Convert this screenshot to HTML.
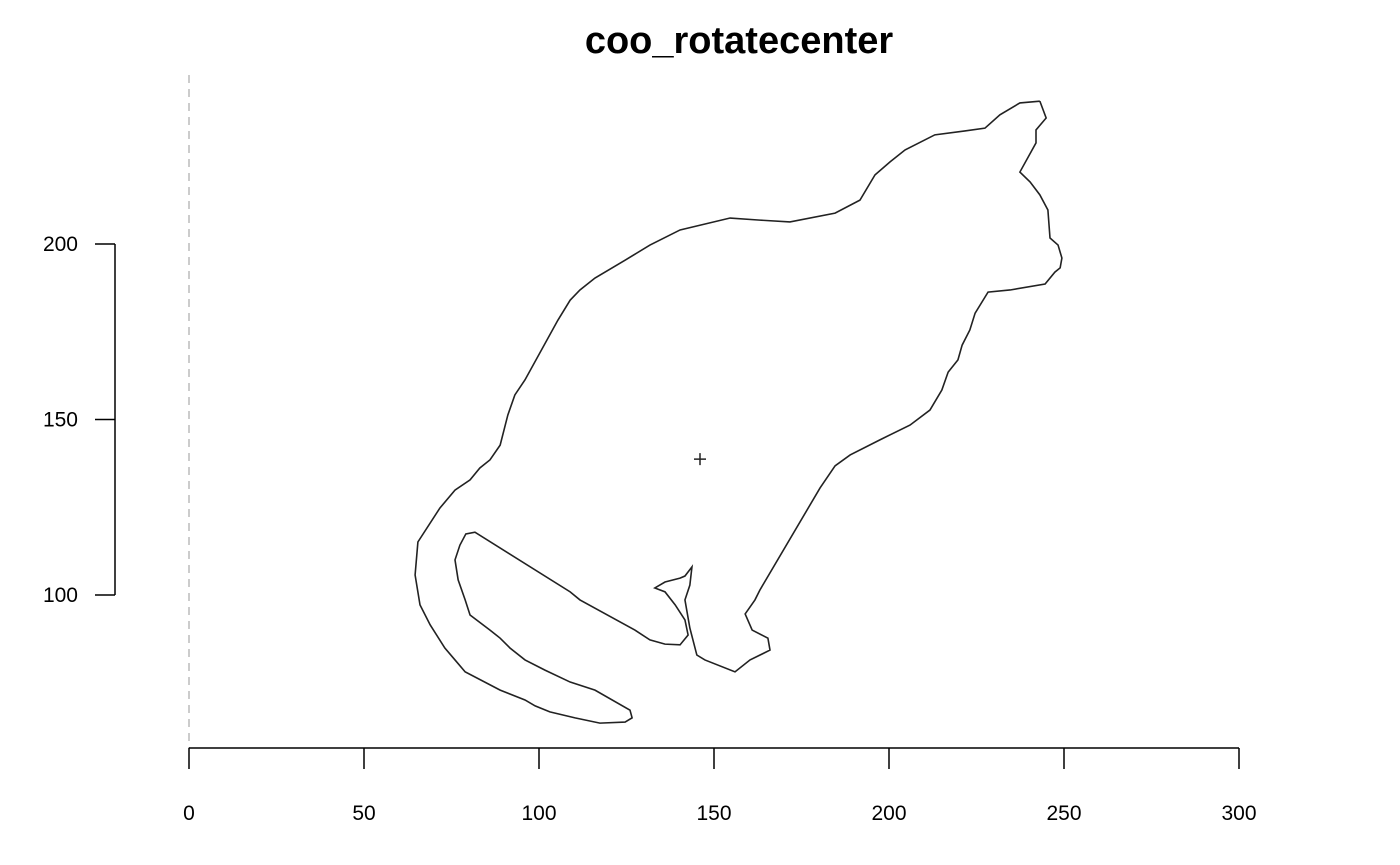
<!DOCTYPE html>
<html><head><meta charset="utf-8"><style>
html,body{margin:0;padding:0;background:#fff;}
svg{display:block;font-family:"Liberation Sans",Arial,sans-serif;}
</style></head><body>
<svg id="chart" width="1400" height="865" viewBox="0 0 1400 865">
<text x="739" y="53" text-anchor="middle" font-size="38" font-weight="bold">coo_rotatecenter</text>
<line x1="189" y1="75" x2="189" y2="748" stroke="#bbb" stroke-width="1.5" stroke-dasharray="8,6"/>
<g id="axes"></g>
<polyline id="outline" fill="none" stroke="#222" stroke-width="1.6"/>
<g id="centroid"></g>
</svg>
<script>
const xTicks=[0,50,100,150,200,250,300];
const yTicks=[100,150,200];
const outlineX=[243.1,244.9,242.0,242.0,237.4,240.3,243.1,245.4,246.0,248.3,249.4,248.9,247.4,244.6,234.6,228.3,224.6,223.1,220.9,219.7,216.9,215.1,211.7,206.0,197.4,188.9,184.6,180.3,163.1,161.7,158.9,160.9,165.4,166.0,160.3,156.0,147.4,145.1,143.1,141.7,143.1,143.7,141.7,140.3,136.0,133.1,136.0,138.9,141.7,142.6,140.3,136.0,131.7,127.4,111.7,108.9,81.7,79.1,77.4,76.0,76.9,78.9,80.3,86.0,88.9,91.7,96.0,101.7,108.9,116.0,126.0,126.6,124.6,117.4,110.3,103.1,98.9,96.0,88.9,78.9,76.0,73.1,68.9,66.0,64.6,65.4,71.7,76.0,80.3,83.1,86.0,88.9,91.1,93.1,96.0,105.4,108.9,111.7,116.0,124.6,131.7,140.3,154.6,163.1,171.7,184.6,191.7,196.0,200.3,204.6,213.1,221.7,227.4,231.7,237.4,243.1];
const outlineY=[240.7,235.9,232.5,228.8,220.5,217.7,214.0,209.7,201.7,199.7,196.0,193.2,192.0,188.6,186.9,186.3,180.3,175.5,171.2,167.0,163.5,158.4,152.7,148.4,144.2,139.9,136.8,130.5,101.4,98.6,94.6,90.0,87.7,84.3,81.5,78.1,81.5,82.9,90.6,98.6,102.8,108.0,105.4,104.8,103.7,102.0,100.9,97.2,92.9,88.6,85.8,86.0,87.2,90.0,98.6,100.9,117.9,117.4,114.2,110.0,104.3,98.6,94.3,90.0,87.7,84.9,81.5,78.6,75.2,72.9,67.2,65.0,63.8,63.5,65.0,66.7,68.4,70.1,72.9,78.1,81.5,84.9,91.5,97.2,105.7,115.1,124.8,129.9,132.8,136.2,138.5,142.7,151.3,157.0,161.3,178.3,184.0,186.9,190.3,195.4,199.7,204.0,207.4,206.8,206.3,208.8,212.5,219.7,223.4,226.8,231.1,232.2,233.0,236.8,240.2,240.7];
const centerX=[146.0];
const centerY=[138.7];

const NS="http://www.w3.org/2000/svg";
const sx=v=>189+v*3.5;
const sy=v=>244+(200-v)*3.51;
function mk(tag,attrs,parent){const e=document.createElementNS(NS,tag);for(const k in attrs)e.setAttribute(k,attrs[k]);parent.appendChild(e);return e;}
const axes=document.getElementById('axes');
let l=mk('line',{x1:sx(xTicks[0]),y1:748,x2:sx(xTicks[xTicks.length-1]),y2:748,stroke:'#000','stroke-width':1.5},axes);


xTicks.forEach(t=>{
 const tk=mk('line',{x1:sx(t),y1:748,x2:sx(t),y2:769,stroke:'#000','stroke-width':1.5},axes);
 
 
 const tx=mk('text',{x:sx(t),y:820,'text-anchor':'middle','font-size':21},axes);tx.textContent=t;
 
 
});
l=mk('line',{x1:115,y1:sy(yTicks[0]),x2:115,y2:sy(yTicks[yTicks.length-1]),stroke:'#000','stroke-width':1.5},axes);


yTicks.forEach(t=>{
 const tk=mk('line',{x1:95,y1:sy(t),x2:115,y2:sy(t),stroke:'#000','stroke-width':1.5},axes);
 
 
 const tx=mk('text',{x:78,y:sy(t)+7,'text-anchor':'end','font-size':21},axes);tx.textContent=t;
 
 
});
document.getElementById('outline').setAttribute('points',outlineX.map((x,i)=>sx(x)+','+sy(outlineY[i])).join(' '));
const cg=document.getElementById('centroid');
centerX.forEach((cx,i)=>{
 const px=sx(cx),py=sy(centerY[i]);
 const p=mk('path',{d:`M${px-6},${py}H${px+6}M${px},${py-6}V${py+6}`,stroke:'#222','stroke-width':1.5},cg);
 
 
});
</script>
</body></html>
